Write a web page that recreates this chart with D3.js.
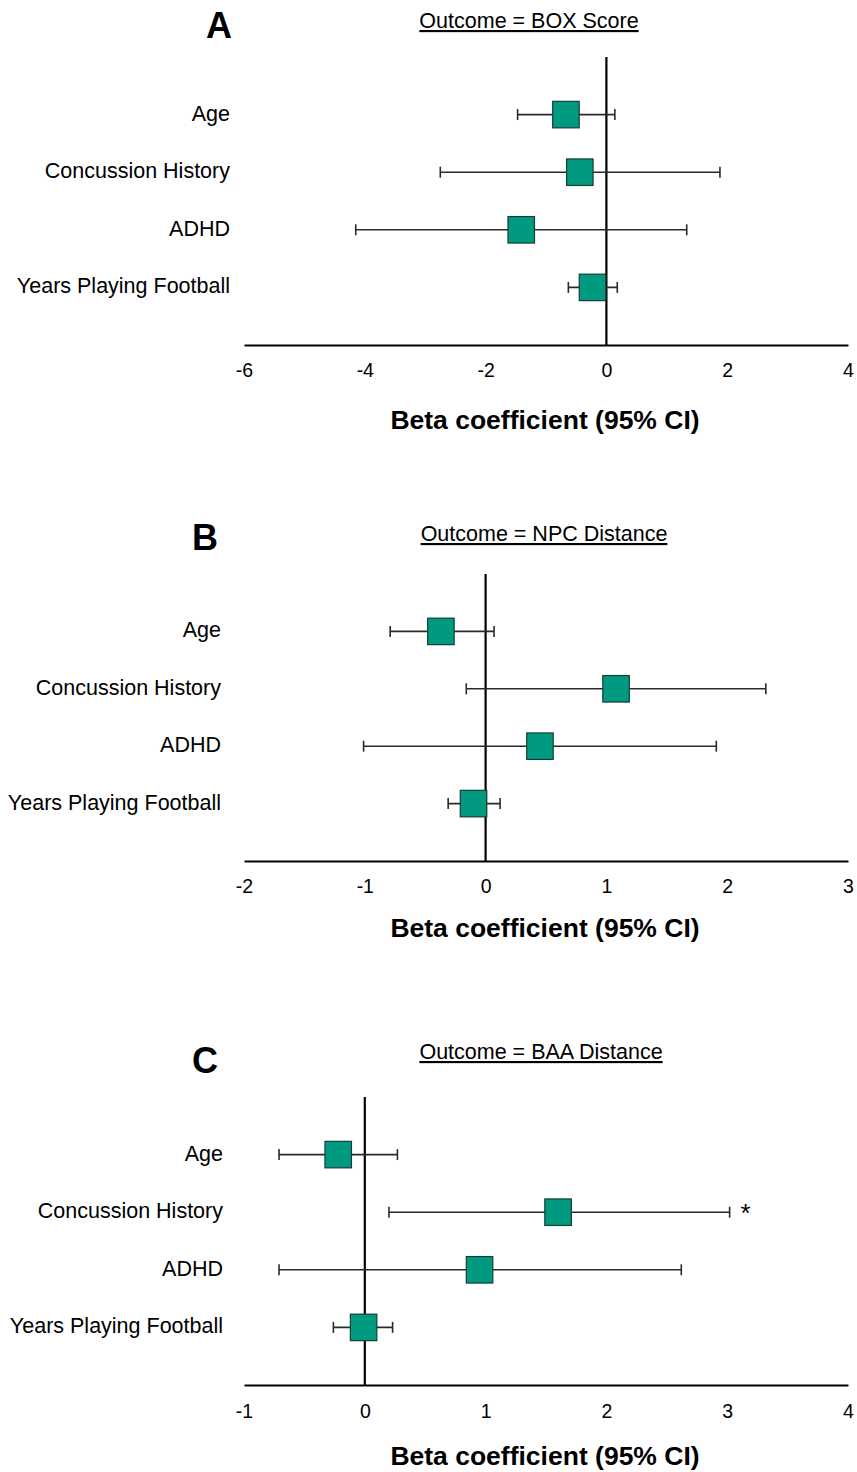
<!DOCTYPE html>
<html>
<head>
<meta charset="utf-8">
<script src="https://cdn.jsdelivr.net/npm/d3@7"></script>
<style>
  body { margin: 0; background: #fff; }
  svg { display: block; }
  text { font-family: Arial, "Liberation Sans", sans-serif; fill: #000; }
</style>
</head>
<body>
<div id="chart"></div>
<script>
const predictors = ["Age", "Concussion History", "ADHD", "Years Playing Football"]

// Outcome = BOX Score
const boxBeta  = [-0.67, -0.44, -1.41, -0.23]
const boxLower = [-1.47, -2.75, -4.15, -0.63]
const boxUpper = [0.14, 1.88, 1.33, 0.18]
const boxTicks = [-6, -4, -2, 0, 2, 4]

// Outcome = NPC Distance
const npcBeta  = [-0.37, 1.08, 0.45, -0.10]
const npcLower = [-0.79, -0.16, -1.01, -0.31]
const npcUpper = [0.07, 2.32, 1.91, 0.12]
const npcTicks = [-2, -1, 0, 1, 2, 3]

// Outcome = BAA Distance
const baaBeta  = [-0.22, 1.60, 0.95, -0.01]
const baaLower = [-0.71, 0.20, -0.71, -0.26]
const baaUpper = [0.27, 3.02, 2.62, 0.23]
const baaTicks = [-1, 0, 1, 2, 3, 4]
const baaSignificant = [false, true, false, false]

const width = 857
const height = 1472
const left = 244
const right = 848
const teal = "#009a80"

const svg = d3.select("#chart").append("svg")
  .attr("width", width)
  .attr("height", height)

function drawPanel(p) {
  const x = d3.scaleLinear().domain(d3.extent(p.ticks)).range([left, right])
  // rows sit on 1..4 of a 0..5 band between the top of the zero line and the axis
  const y = d3.scaleLinear().domain([0, predictors.length + 1]).range([p.top, p.axisY])

  const rows = predictors.map((name, i) => ({
    name: name, beta: p.beta[i], lo: p.lower[i], hi: p.upper[i],
    sig: p.sig ? p.sig[i] : false, pos: i + 1
  }))

  const g = svg.append("g")

  // panel letter and title
  g.append("text")
    .attr("x", p.letterX).attr("y", p.letterY)
    .attr("text-anchor", "middle")
    .style("font-size", "36px").style("font-weight", "bold")
    .text(p.letter)
  g.append("text")
    .attr("x", p.titleX).attr("y", p.titleY)
    .attr("text-anchor", "middle")
    .style("font-size", "21.5px")
    .style("text-decoration", "underline")
    .text(p.title)

  // x axis: line + labels, no tick marks
  const axis = g.append("g")
    .attr("transform", `translate(0,${p.axisY})`)
    .call(d3.axisBottom(x).tickValues(p.ticks).tickSize(0).tickPadding(0).tickFormat(d3.format("d")))
  axis.select(".domain").attr("stroke", "#000").attr("stroke-width", 2.2)
  axis.selectAll(".tick text")
    .attr("y", p.tickY - p.axisY).attr("dy", 0)
    .style("font-size", "19.5px")
    .style("font-family", 'Arial, "Liberation Sans", sans-serif')
    .attr("fill", "#000")
    .text(d => d < 0 ? "-" + Math.abs(d) : d)

  g.append("text")
    .attr("x", 545).attr("y", p.axisTitleY)
    .attr("text-anchor", "middle")
    .style("font-size", "26.5px").style("font-weight", "bold")
    .text("Beta coefficient (95% CI)")

  // zero line
  g.append("line")
    .attr("x1", x(0)).attr("x2", x(0))
    .attr("y1", p.top).attr("y2", p.axisY)
    .attr("stroke", "#000").attr("stroke-width", 2.2)

  // row labels
  g.selectAll(".label")
    .data(rows)
    .enter().append("text")
    .attr("x", p.labelX)
    .attr("y", d => y(d.pos) + 6)
    .attr("text-anchor", "end")
    .style("font-size", "21.5px")
    .text(d => d.name)

  // CI whiskers
  const cap = 5.5
  const bars = g.selectAll(".ci").data(rows).enter().append("g")
  bars.append("line")
    .attr("x1", d => x(d.lo)).attr("x2", d => x(d.hi))
    .attr("y1", d => y(d.pos)).attr("y2", d => y(d.pos))
    .attr("stroke", "#2a2a2a").attr("stroke-width", 1.6)
  bars.append("line")
    .attr("x1", d => x(d.lo)).attr("x2", d => x(d.lo))
    .attr("y1", d => y(d.pos) - cap).attr("y2", d => y(d.pos) + cap)
    .attr("stroke", "#2a2a2a").attr("stroke-width", 1.6)
  bars.append("line")
    .attr("x1", d => x(d.hi)).attr("x2", d => x(d.hi))
    .attr("y1", d => y(d.pos) - cap).attr("y2", d => y(d.pos) + cap)
    .attr("stroke", "#2a2a2a").attr("stroke-width", 1.6)

  // point estimates
  const s = 26.5
  g.selectAll(".est")
    .data(rows)
    .enter().append("rect")
    .attr("x", d => x(d.beta) - s / 2)
    .attr("y", d => y(d.pos) - s / 2)
    .attr("width", s).attr("height", s)
    .attr("fill", teal)
    .attr("stroke", "#173d35").attr("stroke-width", 1.2)

  // significance marker
  g.selectAll(".sig")
    .data(rows.filter(d => d.sig))
    .enter().append("text")
    .attr("x", d => x(d.hi) + 16)
    .attr("y", d => y(d.pos) + 10)
    .attr("text-anchor", "middle")
    .style("font-size", "26px")
    .text("*")
}

const panels = [
  { letter: "A", title: "Outcome = BOX Score", beta: boxBeta, lower: boxLower, upper: boxUpper, ticks: boxTicks,
    top: 57, axisY: 345, tickY: 377, axisTitleY: 429, letterX: 219, letterY: 38, titleX: 529, titleY: 28, labelX: 230 },
  { letter: "B", title: "Outcome = NPC Distance", beta: npcBeta, lower: npcLower, upper: npcUpper, ticks: npcTicks,
    top: 574, axisY: 861, tickY: 893, axisTitleY: 937, letterX: 205, letterY: 550, titleX: 544, titleY: 541, labelX: 221 },
  { letter: "C", title: "Outcome = BAA Distance", beta: baaBeta, lower: baaLower, upper: baaUpper, ticks: baaTicks, sig: baaSignificant,
    top: 1097, axisY: 1385, tickY: 1418, axisTitleY: 1465, letterX: 205, letterY: 1073, titleX: 541, titleY: 1059, labelX: 223 }
]

panels.forEach(drawPanel)
</script>
</body>
</html>
